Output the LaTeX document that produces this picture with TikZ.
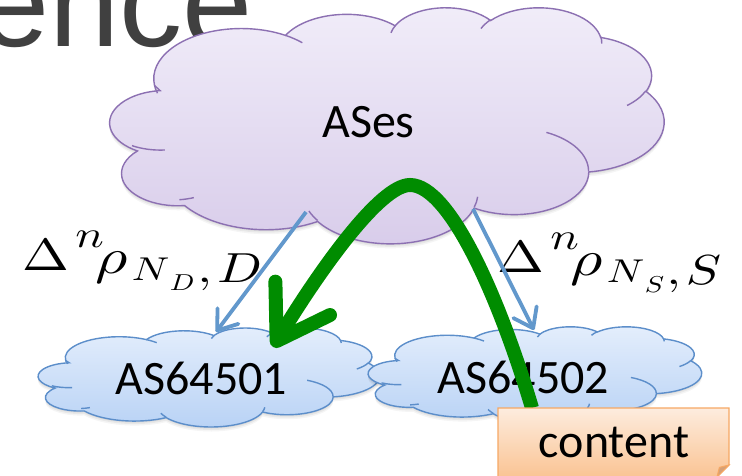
\RequirePackage{fix-cm}
\documentclass[tikz,border=0pt]{standalone}
\usepackage[no-math]{fontspec}
\setmainfont{Carlito}
\newfontfamily\titlefont{Liberation Sans}
\usepackage{graphicx}
\usetikzlibrary{arrows.meta,calc}

\definecolor{purpleline}{RGB}{140,112,178}
\definecolor{purpletop}{RGB}{241,237,249}
\definecolor{purplebot}{RGB}{216,204,234}
\definecolor{blueline}{RGB}{92,142,202}
\definecolor{bluetop}{RGB}{228,238,252}
\definecolor{bluebot}{RGB}{184,210,245}
\definecolor{bluearrowc}{RGB}{98,152,204}
\definecolor{greenc}{RGB}{0,140,0}
\definecolor{orangeline}{RGB}{246,168,100}
\definecolor{orangetop}{RGB}{253,236,222}
\definecolor{orangebot}{RGB}{250,196,148}
\definecolor{orangefold}{RGB}{214,160,118}
\definecolor{titlegrey}{RGB}{64,64,64}

% fonts for the formula labels
\font\mDelta=cmr10 at 45pt
\font\mn=cmmi10 at 38pt
\font\mrho=cmmi10 at 50pt
\font\mN=cmmi10 at 33pt
\font\msub=cmmi10 at 23pt
\font\mlast=cmmi10 at 42pt

% PowerPoint-style arc: geometric angles converted to parametric ones
\newcommand\carc[4]{arc[start angle={atan2((#1)*sin(#3),(#2)*cos(#3))},
  delta angle={mod(atan2((#1)*sin((#3)+(#4)),(#2)*cos((#3)+(#4)))-atan2((#1)*sin(#3),(#2)*cos(#3))+720,360)},
  x radius=#1, y radius=#2]}

\newcommand\cloudmain{(390.0,1437.0)
      \carc{675.3}{919.0}{-190.4875}{123.7805}
      \carc{533.3}{726.7}{-144.1024}{89.9452}
      \carc{436.5}{594.5}{-145.8079}{99.7230}
      \carc{485.7}{659.5}{-130.9861}{117.2417}
      \carc{533.3}{727.3}{-78.7089}{109.0269}
      \carc{677.5}{922.0}{-46.2673}{130.2690}
      \carc{578.5}{786.7}{0.6250}{114.0333}
      \carc{675.2}{921.5}{22.4516}{115.1726}
      \carc{772.0}{1054.3}{66.2426}{69.4993}
      \carc{436.0}{591.8}{-274.9421}{147.7261}
      \carc{434.5}{594.5}{-246.8285}{152.5189}
      -- cycle}

\newcommand\pptcloud[7]{%
  \pgfmathsetmacro\cldx{#3/4320}\pgfmathsetmacro\cldy{#4/4320}%
  \begin{scope}[shift={(#1,#2)}, x=\cldx pt, y=-\cldy pt]
    \fill[black, opacity=0.05, yshift=-1.5pt] \cloudmain;
    \fill[black, opacity=0.05, yshift=-3pt] \cloudmain;
    \fill[black, opacity=0.04, yshift=-4.5pt] \cloudmain;
    \path[draw=#5, line width=1.4pt, top color=#6, bottom color=#7] \cloudmain;
    \draw[#5, line width=1.4pt]
      (469.3,2617.7) \carc{434.5}{594.5}{86.7420}{26.4295}
      (692.8,3489.9) \carc{436.0}{591.8}{73.6105}{11.4475}
      (1647.8,3909.0) \carc{675.2}{921.5}{137.6242}{14.0811}
      (2882.7,3475.1) \carc{675.2}{921.5}{6.4533}{15.9984}
      (3412.9,2295.4) \carc{578.5}{786.7}{-70.2924}{70.9174}
      (4179.8,1535.4) \carc{533.3}{727.3}{30.3180}{27.7515}
      (3832.4,542.6) \carc{485.7}{659.5}{-13.7443}{14.8589}
      (2907.8,395.2) \carc{485.7}{659.5}{-149.1815}{18.1954}
      (2214.1,472.0) \carc{436.5}{594.5}{-163.4943}{17.6864}
      (1400.0,519.2) \carc{675.3}{919.0}{-66.7070}{12.3194}
      (412.7,1578.9) \carc{675.3}{919.0}{157.6544}{11.8582};
  \end{scope}}

\newcommand\rholabel[2]{\scalebox{1.25}[1]{%
  {\mDelta\char1}\kern5pt%
  \raisebox{23pt}{\mn n}\kern-7pt%
  \raisebox{-3pt}{\mrho\char26}\kern3.5pt%
  \raisebox{-10pt}{\mN N}\kern4pt%
  \raisebox{-20pt}{\msub #1}\kern3pt%
  \raisebox{-12pt}{\mlast\char59\kern4pt #2}}}

\begin{document}
\begin{tikzpicture}[x=1pt,y=-1pt,
  cloudtext/.style={font=\fontsize{48}{48}\selectfont, inner sep=0pt, text=black},
  titletext/.style={font=\titlefont\fontsize{126}{126}\selectfont, text=titlegrey, inner sep=0pt},
  mathlabel/.style={inner sep=0pt, text=black},
  bluearrow/.style={draw=bluearrowc, line width=3.8pt, -{Straight Barb[length=18pt,width=26pt,round]}},
  greenarrow/.style={draw=greenc, line width=14pt, -{Straight Barb[length=50pt,width=64pt,round]}},
  notebox/.style={draw=orangeline, line width=1.4pt, top color=orangetop, bottom color=orangebot},
  notefold/.style={draw=orangeline, line width=1pt, fill=orangefold},
  notetext/.style={font=\fontsize{48}{48}\selectfont, inner sep=0pt, text=black}
]
\useasboundingbox (0,0) rectangle (742,476);
\fill[white] (0,0) rectangle (742,476);
\clip (0,0) rectangle (742,476);

\node[titletext, anchor=base east] (title) at (252.5,46.5) {ence};

% big cloud
\pptcloud{104}{7}{560}{236}{purpleline}{purpletop}{purplebot}
\node[cloudtext, anchor=base] (ases) at (368.5,138) {ASes};

% labels
\node[mathlabel, anchor=base west] (lblD) at (22,270) {\rholabel{D}{D}};
\node[mathlabel, anchor=base west] (lblS) at (497,272) {\rholabel{S}{S}};

% small clouds
\pptcloud{34.6}{327.7}{345}{99}{blueline}{bluetop}{bluebot}
\node[cloudtext, anchor=base] (as1) at (201.5,394.5) {AS64501};
\pptcloud{364.7}{326.5}{337}{96}{blueline}{bluetop}{bluebot}
\node[cloudtext, anchor=base] (as2) at (523.5,393) {AS64502};

% connector end points
\coordinate (lbs) at (306,212);
\coordinate (lbe) at (216,332);
\coordinate (rbs) at (473,209);
\coordinate (rbe) at (534,330);
\coordinate (gtip) at (273,347);
\coordinate (gpeak) at (410,185);
\coordinate (gstart) at (532,408);

\draw[bluearrow] (lbs) -- (lbe);
\draw[bluearrow] (rbs) -- (rbe);

\draw[greenarrow] (gstart) .. controls (500,300) and (450,185) .. (gpeak)
  .. controls (380,185) and (320,270) .. (gtip);

% content note
\path[notebox] (498,408) -- (729,408) -- (729,465) -- (717,477) -- (498,477) -- cycle;
\path[notefold] (717,477) -- (719.4,467.4) -- (729,465) -- cycle;
\node[notetext, anchor=base] (content) at (614,457) {content};
\end{tikzpicture}
\end{document}
